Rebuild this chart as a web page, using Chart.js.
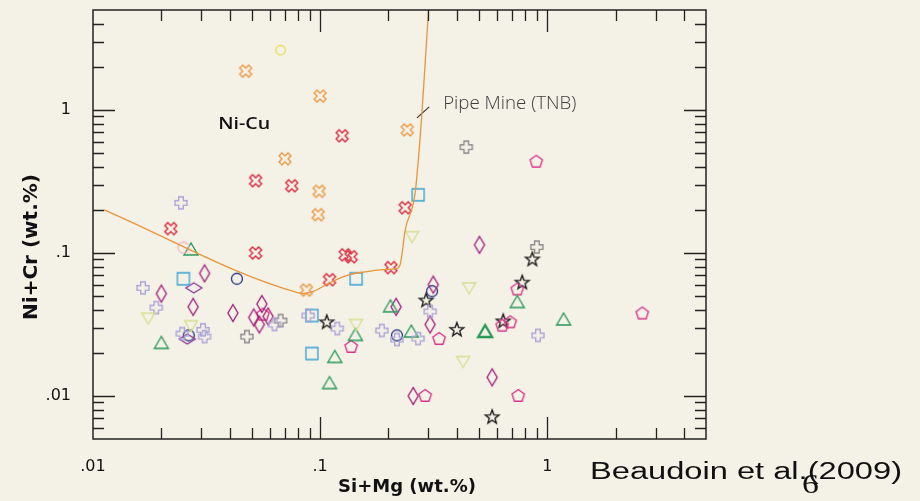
<!DOCTYPE html>
<html>
<head>
<meta charset="utf-8">
<script src="https://cdn.jsdelivr.net/npm/chart.js@4.4.1/dist/chart.umd.min.js"></script>
<style>
  html, body { margin: 0; padding: 0; background: #F4F1E6; }
  #wrap { width: 920px; height: 501px; }
</style>
</head>
<body>
<div id="wrap"><canvas id="chart" width="920" height="501"></canvas></div>
<script>
// ---- data (Si+Mg vs Ni+Cr, wt.%) ----
const xMajorTicks = [0.01, 0.1, 1];
const xTickLabels = ['.01', '.1', '1'];
const yMajorTicks = [0.01, 0.1, 1];
const yTickLabels = ['.01', '.1', '1'];

const orangeX = [[0.047, 1.87], [0.1, 1.25], [0.07, 0.455], [0.099, 0.27], [0.098, 0.185], [0.242, 0.725], [0.087, 0.055]];
const redX = [[0.125, 0.66], [0.052, 0.32], [0.075, 0.295], [0.022, 0.148], [0.237, 0.207], [0.052, 0.1],
              [0.129, 0.097], [0.137, 0.094], [0.11, 0.065], [0.205, 0.079]];
const yellowCircle = [[0.067, 2.62]];
const pinkCircle = [[0.025, 0.109]];
const lavenderPlus = [[0.0244, 0.224], [0.0166, 0.057], [0.019, 0.0415], [0.0247, 0.0273], [0.0305, 0.029], [0.031, 0.026],
                      [0.063, 0.0316], [0.0885, 0.0365], [0.119, 0.0296], [0.187, 0.0287], [0.218, 0.0248], [0.27, 0.0252],
                      [0.305, 0.039], [0.91, 0.0265]];
const grayPlus = [[0.44, 0.55], [0.9, 0.11], [0.0476, 0.026], [0.067, 0.0337]];
const blueSquare = [[0.27, 0.255], [0.025, 0.066], [0.144, 0.066], [0.092, 0.0365], [0.092, 0.0198]];
const greenTri = [[0.027, 0.105], [0.02, 0.0233], [0.11, 0.0122], [0.116, 0.0186], [0.143, 0.0265], [0.204, 0.042],
                  [0.252, 0.028], [0.738, 0.045], [1.18, 0.034]];
const greenTriBold = [[0.533, 0.028]];
const paleTri = [[0.0175, 0.035], [0.027, 0.031], [0.144, 0.0316], [0.254, 0.13], [0.453, 0.057], [0.426, 0.0174]];
const magentaDiamond = [[0.031, 0.072], [0.02, 0.052], [0.0276, 0.042], [0.0413, 0.038], [0.0554, 0.044], [0.051, 0.0354],
                        [0.054, 0.0316], [0.059, 0.036], [0.216, 0.042], [0.315, 0.06], [0.305, 0.0316], [0.503, 0.114],
                        [0.257, 0.01], [0.572, 0.0135]];
const purpleDiamond = [[0.0278, 0.057], [0.026, 0.025]];
const pinkPentagon = [[0.895, 0.434], [0.137, 0.022], [0.334, 0.025], [0.29, 0.01], [0.745, 0.01], [0.738, 0.0555],
                      [0.633, 0.031], [0.687, 0.0327], [2.62, 0.0377], [0.056, 0.037]];
const navyCircle = [[0.043, 0.066], [0.0264, 0.0265], [0.311, 0.054], [0.218, 0.0265]];
const blackStar = [[0.107, 0.0327], [0.293, 0.0465], [0.4, 0.029], [0.776, 0.062], [0.86, 0.09], [0.64, 0.0332], [0.572, 0.0071]];

// Pipe Mine (TNB) discrimination curve
const pipeCurve = [[0.01118, 0.2], [0.0796, 0.0528], [0.0845, 0.0522], [0.093, 0.0537], [0.1107, 0.062], [0.1356, 0.0707],
                   [0.161, 0.074], [0.189, 0.0764], [0.218, 0.078], [0.226, 0.085], [0.237, 0.145], [0.262, 0.263],
                   [0.28, 0.894], [0.3, 5]];
const pipeLeader = [[0.267, 0.88], [0.302, 1.05]];

const BG = '#F4F1E6';

/**
 * Outline marker drawn onto a small canvas, used as pointStyle
 */
function marker(shape, color, lw) {
    const S = 24;
    const c = document.createElement('canvas');
    c.width = S; c.height = S;
    const g = c.getContext('2d');
    g.translate(S / 2, S / 2);
    g.strokeStyle = color;
    g.lineWidth = lw || 1.35;
    g.beginPath();
    const poly = (pts) => { pts.forEach((p, i) => i ? g.lineTo(p[0], p[1]) : g.moveTo(p[0], p[1])); g.closePath(); };
    const plus = (a, L) => poly([[-a, -L], [a, -L], [a, -a], [L, -a], [L, a], [a, a], [a, L], [-a, L], [-a, a], [-L, a], [-L, -a], [-a, -a]]);
    switch (shape) {
        case 'x': g.rotate(Math.PI / 4); plus(2.1, 6.4); break;
        case 'plus': plus(2.3, 6); break;
        case 'square': poly([[-6, -6], [6, -6], [6, 6], [-6, 6]]); break;
        case 'tri': poly([[0, -7], [7, 5], [-7, 5]]); break;
        case 'itri': poly([[0, 6], [6.5, -5], [-6.5, -5]]); break;
        case 'diamond': poly([[0, -8.5], [5, 0], [0, 8.5], [-5, 0]]); break;
        case 'wdiamond': poly([[0, -5], [8, 0], [0, 5], [-8, 0]]); break;
        case 'pent': {
            const p = [];
            for (let i = 0; i < 5; i++) { const a = -Math.PI / 2 + i * 2 * Math.PI / 5; p.push([6.5 * Math.cos(a), 6.5 * Math.sin(a)]); }
            poly(p); break;
        }
        case 'star': {
            const p = [];
            for (let i = 0; i < 10; i++) { const r = i % 2 ? 3 : 7.2; const a = -Math.PI / 2 + i * Math.PI / 5; p.push([r * Math.cos(a), r * Math.sin(a)]); }
            poly(p); break;
        }
        case 'circle': g.arc(0, 0, 5.5, 0, Math.PI * 2); break;
        case 'smallcircle': g.arc(0, 0, 4.8, 0, Math.PI * 2); break;
    }
    g.stroke();
    return c;
}

function pts(arr) {
    return arr.map(p => ({ x: p[0], y: p[1] }));
}

function series(label, arr, shape, color, lw) {
    return {
        label: label,
        data: pts(arr),
        pointStyle: marker(shape, color, lw),
        pointRadius: 7,
        showLine: false
    };
}

function stretchText(ctx, text, px, py, sx) {
    ctx.save();
    ctx.translate(px, py);
    ctx.scale(sx, 1);
    ctx.fillText(text, 0, 0);
    ctx.restore();
}

// Frame, inward tick marks and annotations
const framePlugin = {
    id: 'frame',
    beforeDraw(chart) {
        const ctx = chart.ctx;
        ctx.save();
        ctx.fillStyle = BG;
        ctx.fillRect(0, 0, chart.width, chart.height);
        ctx.restore();
    },
    afterDraw(chart) {
        const { ctx, chartArea: a, scales: { x, y } } = chart;
        ctx.save();
        ctx.strokeStyle = '#222';
        ctx.lineWidth = 1.5;
        ctx.strokeRect(a.left, a.top, a.right - a.left, a.bottom - a.top);

        ctx.lineWidth = 1.3;
        ctx.beginPath();
        [0.001, 0.01, 0.1, 1].forEach(d => {
            for (let k = 1; k <= 9; k++) {
                const v = d * k;
                const len = k === 1 ? 22 : 11;
                if (v > x.min * 1.001 && v < x.max * 0.999) {
                    const px = Math.round(x.getPixelForValue(v)) + 0.5;
                    ctx.moveTo(px, a.bottom); ctx.lineTo(px, a.bottom - len);
                    ctx.moveTo(px, a.top); ctx.lineTo(px, a.top + len);
                }
                if (v > y.min * 1.001 && v < y.max * 0.999) {
                    const py = Math.round(y.getPixelForValue(v)) + 0.5;
                    ctx.moveTo(a.left, py); ctx.lineTo(a.left + len, py);
                    ctx.moveTo(a.right, py); ctx.lineTo(a.right - len, py);
                }
            }
        });
        ctx.stroke();

        // annotations
        ctx.fillStyle = '#111';
        ctx.textBaseline = 'middle';
        ctx.textAlign = 'center';
        ctx.font = '600 17px "Open Sans"';
        stretchText(ctx, 'Ni-Cu', x.getPixelForValue(0.0463), y.getPixelForValue(0.8), 1.15);

        ctx.fillStyle = '#3c3c3c';
        ctx.textAlign = 'left';
        ctx.font = '300 18px "Open Sans"';
        stretchText(ctx, 'Pipe Mine (TNB)', x.getPixelForValue(0.348), y.getPixelForValue(1.1), 1.04);

        // axis titles
        ctx.fillStyle = '#111';
        ctx.textAlign = 'center';
        ctx.font = 'bold 18px "DejaVu Sans"';
        ctx.fillText('Si+Mg (wt.%)', 407, 487);

        ctx.save();
        ctx.translate(32, 247);
        ctx.rotate(-Math.PI / 2);
        ctx.font = 'bold 20px "DejaVu Sans"';
        ctx.fillText('Ni+Cr (wt.%)', 0, 0);
        ctx.restore();

        // citation + slide number
        ctx.textAlign = 'left';
        ctx.textBaseline = 'alphabetic';
        ctx.font = '23px "Liberation Sans"';
        const cite = 'Beaudoin et al.(2009)';
        const sx = 312 / ctx.measureText(cite).width;
        stretchText(ctx, cite, 590, 479, sx);
        ctx.font = '28px "Liberation Serif"';
        stretchText(ctx, '6', 802, 493, 1.2);
        ctx.restore();
    }
};

const datasets = [
    {
        label: 'Pipe Mine (TNB)',
        data: pts(pipeCurve),
        showLine: true,
        borderColor: '#E8963C',
        borderWidth: 1.3,
        pointRadius: 0,
        cubicInterpolationMode: 'monotone'
    },
    {
        label: 'leader',
        data: pts(pipeLeader),
        showLine: true,
        borderColor: '#333',
        borderWidth: 1.2,
        pointRadius: 0
    },
    series('pale', paleTri, 'itri', '#D3E08E'),
    series('lavender', lavenderPlus, 'plus', '#ABA3D8'),
    series('gray', grayPlus, 'plus', '#888888'),
    series('pinkCircle', pinkCircle, 'circle', '#F2B8C6'),
    series('yellow', yellowCircle, 'smallcircle', '#E6DE55'),
    series('blue', blueSquare, 'square', '#36A4D6'),
    series('green', greenTri, 'tri', '#259858'),
    series('greenBold', greenTriBold, 'tri', '#259858', 2.3),
    series('magenta', magentaDiamond, 'diamond', '#A01E7C'),
    series('purple', purpleDiamond, 'wdiamond', '#8C3A9A'),
    series('pentagon', pinkPentagon, 'pent', '#D83388'),
    series('navy', navyCircle, 'circle', '#2A3686'),
    series('orange', orangeX, 'x', '#EB9A45'),
    series('red', redX, 'x', '#D8283C'),
    series('star', blackStar, 'star', '#151515')
];

const tickFont = { family: '"DejaVu Sans"', size: 16 };

function noPad(s) {
    s.paddingTop = 0; s.paddingBottom = 0; s.paddingLeft = 0; s.paddingRight = 0;
}

new Chart(document.getElementById('chart'), {
    type: 'scatter',
    data: { datasets: datasets },
    options: {
        responsive: false,
        animation: false,
        layout: { padding: { top: 10, right: 214, left: 0, bottom: 0 } },
        plugins: {
            legend: { display: false },
            tooltip: { enabled: false }
        },
        scales: {
            x: {
                type: 'logarithmic',
                min: 0.01,
                max: 5,
                grid: { display: false },
                border: { display: false },
                afterBuildTicks: (s) => { s.ticks = xMajorTicks.map(v => ({ value: v })); },
                afterFit: (s) => { s.height = 62; noPad(s); },
                ticks: {
                    autoSkip: false,
                    maxRotation: 0,
                    padding: 10,
                    color: '#111',
                    font: tickFont,
                    callback: (v) => xTickLabels[xMajorTicks.indexOf(v)] ?? ''
                }
            },
            y: {
                type: 'logarithmic',
                min: 0.005,
                max: 5,
                grid: { display: false },
                border: { display: false },
                afterBuildTicks: (s) => { s.ticks = yMajorTicks.map(v => ({ value: v })); },
                afterFit: (s) => { s.width = 93; noPad(s); },
                ticks: {
                    autoSkip: false,
                    padding: 14,
                    color: '#111',
                    font: tickFont,
                    callback: (v) => yTickLabels[yMajorTicks.indexOf(v)] ?? ''
                }
            }
        }
    },
    plugins: [framePlugin]
});
</script>
</body>
</html>
